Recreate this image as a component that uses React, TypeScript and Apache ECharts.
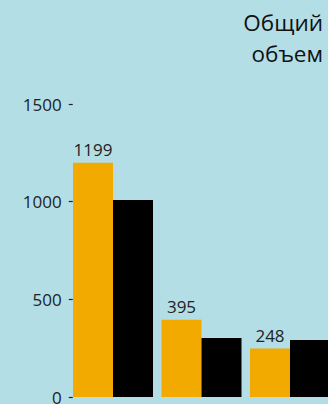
import React, { useEffect, useRef } from "react";
import * as echarts from "echarts";

const categories = ["A", "B", "C"];
const seriesOrange = [1199, 395, 248];
const seriesBlack = [1008, 302, 292];
const orangeLabels = ["1199", "395", "248"];
const titleLines = ["Общий", "объем"];

export default function App() {
  const ref = useRef<HTMLDivElement>(null);
  useEffect(() => {
    if (!ref.current) return;
    const chart = echarts.init(ref.current, null, { renderer: "svg" });
    const font = "'Open Sans', 'Noto Sans', sans-serif";
    chart.setOption({
      animation: false,
      backgroundColor: "#b3dee6",
      grid: {
        left: 68.75,
        width: 265.5,
        top: 104,
        height: 293,
        containLabel: false,
        outerBoundsMode: "none",
      },
      graphic: [
        {
          type: "text",
          x: 323,
          y: 7,
          style: {
            text: titleLines.join("\n"),
            align: "right",
            verticalAlign: "top",
            fontSize: 22.5,
            lineHeight: 31,
            fontFamily: font,
            fill: "#111",
          },
        },
      ],
      xAxis: {
        type: "category",
        data: categories,
        axisLine: { show: false },
        axisTick: { show: false },
        axisLabel: { show: false },
      },
      yAxis: {
        type: "value",
        min: 0,
        max: 1500,
        interval: 500,
        splitLine: { show: false },
        axisLine: { show: false },
        axisTick: { show: true, inside: true, length: 4, lineStyle: { color: "#222", width: 1.2 } },
        axisLabel: {
          margin: 7,
          fontSize: 17,
          color: "#222",
          fontFamily: font,
          formatter: (v: number) => String(v),
        },
      },
      series: [
        {
          type: "bar",
          data: seriesOrange,
          barWidth: 40,
          barGap: "0%",
          itemStyle: { color: "#f2a900" },
          label: {
            show: true,
            position: "top",
            distance: 5,
            fontSize: 17,
            color: "#222",
            fontFamily: font,
            formatter: (p: any) => orangeLabels[p.dataIndex],
          },
        },
        {
          type: "bar",
          data: seriesBlack,
          barWidth: 40,
          barGap: "0%",
          itemStyle: { color: "#000" },
        },
      ],
    });
    return () => chart.dispose();
  }, []);
  return (
    <div
      ref={ref}
      style={{ position: "absolute", left: 0, top: 0, width: 328, height: 404 }}
    />
  );
}
